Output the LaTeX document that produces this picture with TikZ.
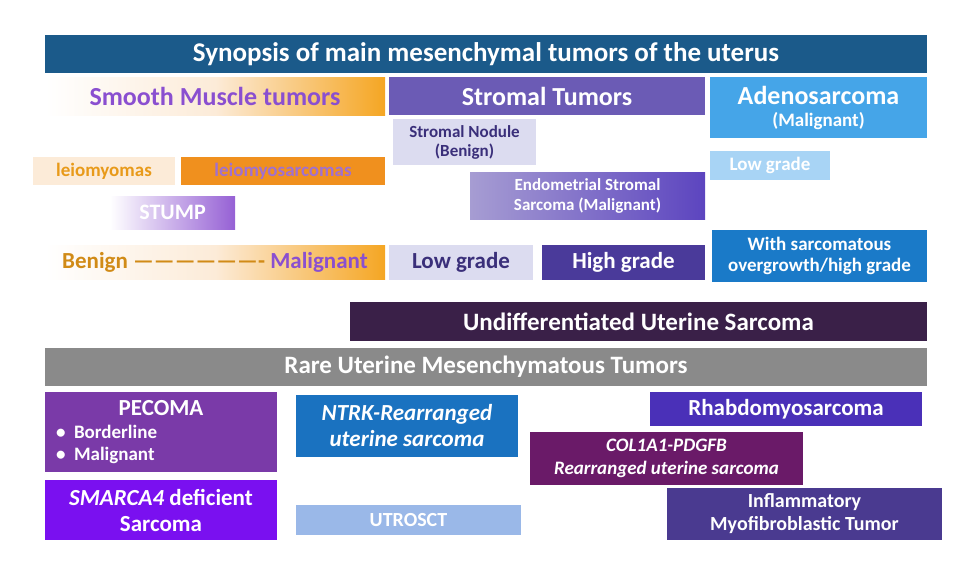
\documentclass[tikz,border=0pt]{standalone}
\usepackage{fontspec}
\setmainfont{Carlito}[Ligatures=Common]
\definecolor{titleblue}{HTML}{1B5A8A}
\definecolor{smorange}{HTML}{F5A623}
\definecolor{smpurple}{HTML}{8A4FD0}
\definecolor{stromal}{HTML}{6B5BB5}
\definecolor{adeno}{HTML}{45A5E8}
\definecolor{lav}{HTML}{DCDCF0}
\definecolor{lavtext}{HTML}{3A2F7A}
\definecolor{peach}{HTML}{FCEBD8}
\definecolor{ltorange}{HTML}{E89A1A}
\definecolor{dkorange}{HTML}{F0901E}
\definecolor{lmpurple}{HTML}{A070D0}
\definecolor{ltblue}{HTML}{A8D4F5}
\definecolor{highgr}{HTML}{4A3A9A}
\definecolor{sarcblue}{HTML}{1A7AC8}
\definecolor{undiff}{HTML}{3A2048}
\definecolor{raregray}{HTML}{8A8A8A}
\definecolor{pecoma}{HTML}{7A3AA8}
\definecolor{ntrk}{HTML}{1A72C0}
\definecolor{rhabdo}{HTML}{4A30B8}
\definecolor{colpdg}{HTML}{6A1A68}
\definecolor{smarca}{HTML}{7A10F0}
\definecolor{utrosct}{HTML}{9AB8E8}
\definecolor{imt}{HTML}{4A3A90}
\tikzset{
  tbox/.style={rectangle, inner sep=0pt, align=center, font=\bfseries, text=white},
}
\begin{document}
\begin{tikzpicture}[x=1pt,y=-1pt]
\useasboundingbox (0,0) rectangle (974,571);
% header rows
\node[tbox, fill=titleblue, minimum width=882, minimum height=38, font=\bfseries\fontsize{27}{29}\selectfont] (title) at (486,54) {Synopsis of main mesenchymal tumors of the uterus};
\node[tbox, left color=white, right color=smorange, middle color=peach, minimum width=340, minimum height=38, text=smpurple, font=\bfseries\fontsize{26}{28}\selectfont] (smooth) at (215,96) {Smooth Muscle tumors};
\node[tbox, fill=stromal, minimum width=316, minimum height=38, font=\bfseries\fontsize{26}{28}\selectfont] (stromal) at (547,96) {Stromal Tumors};
\node[tbox, fill=adeno, minimum width=217, minimum height=61, font=\bfseries\fontsize{26}{20}\selectfont] (adeno) at (818.5,107.5) {Adenosarcoma\\[2pt]{\fontsize{19}{20}\selectfont(Malignant)}};
% smooth muscle column
\node[tbox, fill=peach, minimum width=142, minimum height=28, text=ltorange, font=\bfseries\fontsize{19}{20}\selectfont] (leio) at (104,171) {leiomyomas};
\node[tbox, fill=dkorange, minimum width=204, minimum height=28, text=lmpurple, font=\bfseries\fontsize{19}{20}\selectfont] (lms) at (283,171) {leiomyosarcomas};
\node[tbox, left color=white, right color=smpurple!90, minimum width=125, minimum height=33, font=\bfseries\fontsize{22}{24}\selectfont] (stump) at (172.5,212.5) {STUMP};
\node[tbox, left color=white, right color=smorange, middle color=peach, minimum width=340, minimum height=34, font=\bfseries\fontsize{23}{26}\selectfont] (scale) at (215,262) {\textcolor{ltorange!90!black}{Benign -------------------} \textcolor{smpurple}{Malignant}};
% stromal column
\node[tbox, fill=lav, minimum width=143, minimum height=46, text=lavtext, font=\bfseries\fontsize{17}{19}\selectfont] (nodule) at (464.5,142) {Stromal Nodule\\(Benign)};
\node[tbox, left color=stromal!60, right color=rhabdo!90, minimum width=235, minimum height=47, font=\bfseries\fontsize{17}{20}\selectfont] (ess) at (587.5,195.5) {Endometrial Stromal\\Sarcoma (Malignant)};
\node[tbox, fill=lav, minimum width=144, minimum height=35, text=lavtext, font=\bfseries\fontsize{23}{26}\selectfont] (lowgr) at (461,262.5) {Low grade};
\node[tbox, fill=highgr, minimum width=163, minimum height=35, font=\bfseries\fontsize{23}{26}\selectfont] (highgr) at (623.5,262.5) {High grade};
% adenosarcoma column
\node[tbox, fill=ltblue, minimum width=120, minimum height=29, font=\bfseries\fontsize{19}{20}\selectfont] (adlow) at (770,165.5) {Low grade};
\node[tbox, fill=sarcblue, minimum width=215, minimum height=52, font=\bfseries\fontsize{19}{21}\selectfont] (overgr) at (819.5,256) {With sarcomatous\\overgrowth/high grade};
% wide bars
\node[tbox, fill=undiff, minimum width=577, minimum height=39, font=\bfseries\fontsize{25}{27}\selectfont] (undiff) at (638.5,321.5) {Undifferentiated Uterine Sarcoma};
\node[tbox, fill=raregray, minimum width=882, minimum height=38, font=\bfseries\fontsize{25}{27}\selectfont] (rare) at (486,367) {Rare Uterine Mesenchymatous Tumors};
% rare tumors
\node[tbox, fill=pecoma, minimum width=232, minimum height=80, font=\bfseries\fontsize{19}{22}\selectfont] (pecoma) at (161,432) {{\fontsize{23}{24}\selectfont PECOMA}\\[1pt]
  \makebox[210pt][l]{\textbullet\ \ Borderline}\\ \makebox[210pt][l]{\textbullet\ \ Malignant}};
\node[tbox, fill=smarca, minimum width=232, minimum height=60, font=\bfseries\fontsize{23}{26}\selectfont] (smarca) at (161,510) {\textit{SMARCA4} deficient\\Sarcoma};
\node[tbox, fill=ntrk, minimum width=222, minimum height=62, font=\bfseries\itshape\fontsize{23}{26}\selectfont] (ntrk) at (407,426) {NTRK-Rearranged\\uterine sarcoma};
\node[tbox, fill=utrosct, minimum width=225, minimum height=30, font=\bfseries\fontsize{20}{22}\selectfont] (utrosct) at (408.5,520) {UTROSCT};
\node[tbox, fill=rhabdo, minimum width=272, minimum height=34, font=\bfseries\fontsize{23}{25}\selectfont] (rhabdo) at (786,409) {Rhabdomyosarcoma};
\node[tbox, fill=colpdg, minimum width=273, minimum height=53, font=\bfseries\itshape\fontsize{19}{23}\selectfont] (colpdg) at (666.5,458.5) {COL1A1-PDGFB\\Rearranged uterine sarcoma};
\node[tbox, fill=imt, minimum width=275, minimum height=52, font=\bfseries\fontsize{20}{23}\selectfont] (imt) at (804.5,514) {Inflammatory\\Myofibroblastic Tumor};
\end{tikzpicture}
\end{document}
